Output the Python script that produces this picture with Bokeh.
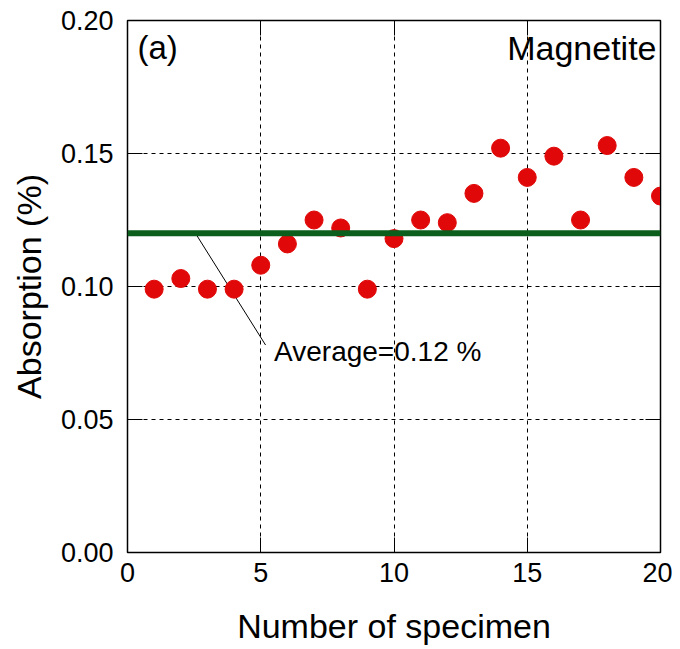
from bokeh.plotting import figure
from bokeh.models import Range1d, LinearAxis, Span, Label, FixedTicker, ColumnDataSource, CustomJSTickFormatter
from bokeh.embed import file_html
from bokeh.resources import INLINE

specimen = list(range(1, 21))
absorption = [0.099, 0.103, 0.099, 0.099, 0.108, 0.116, 0.125, 0.122, 0.099, 0.118,
              0.125, 0.124, 0.135, 0.152, 0.141, 0.149, 0.125, 0.153, 0.141, 0.134]
average = 0.12
x_ticks = [0, 5, 10, 15, 20]
y_ticks = [0.0, 0.05, 0.10, 0.15, 0.20]
leader_start = (2.55, 0.12)
leader_end = (5.18, 0.078)
label_pos = (5.5, 0.0755)

FONT = "Liberation Sans"

p = figure(frame_width=533, frame_height=532, output_backend="svg", toolbar_location=None,
           x_range=Range1d(0, 20), y_range=Range1d(0, 0.2),
           min_border_left=127, min_border_top=20, min_border_right=12, min_border_bottom=90)
p.background_fill_color = "white"
p.border_fill_color = "white"
p.outline_line_color = "black"
p.outline_line_width = 1.5

for ax in [p.xaxis[0], p.yaxis[0]]:
    ax.major_tick_in = 15
    ax.major_tick_out = 0
    ax.minor_tick_in = 0
    ax.minor_tick_out = 0
    ax.axis_line_color = "black"
    ax.major_label_text_font = FONT
    ax.major_label_text_font_size = "27px"
    ax.major_label_text_color = "black"
    ax.axis_label_text_font = FONT
    ax.axis_label_text_font_style = "normal"
    ax.axis_label_text_font_size = "34px"
    ax.axis_label_text_color = "black"

p.xaxis.ticker = FixedTicker(ticks=x_ticks)
p.yaxis.ticker = FixedTicker(ticks=y_ticks)
p.yaxis.formatter = CustomJSTickFormatter(code="return tick.toFixed(2);")
p.xaxis.axis_label = "Number of specimen"
p.yaxis.axis_label = "Absorption (%)"
p.xaxis.major_label_standoff = 10
p.yaxis.major_label_standoff = 14
p.xaxis.axis_label_standoff = 22
p.yaxis.axis_label_standoff = 10

for loc in ["right", "above"]:
    ax = LinearAxis(ticker=FixedTicker(ticks=x_ticks if loc == "above" else y_ticks))
    ax.major_tick_in = 15
    ax.major_tick_out = 0
    ax.minor_tick_in = 0
    ax.minor_tick_out = 0
    ax.major_label_text_font_size = "0px"
    ax.major_label_text_alpha = 0
    ax.major_label_standoff = 0
    ax.axis_line_color = "black"
    p.add_layout(ax, loc)

p.grid.grid_line_color = "black"
p.grid.grid_line_dash = "4 4"
p.grid.grid_line_width = 1
p.xgrid.ticker = FixedTicker(ticks=x_ticks)
p.ygrid.ticker = FixedTicker(ticks=y_ticks)

p.add_layout(Span(location=average, dimension="width", line_color="#0b5e1c", line_width=6))

seg_src = ColumnDataSource(dict(x0=[leader_start[0]], y0=[leader_start[1]],
                                x1=[leader_end[0]], y1=[leader_end[1]]))
p.segment("x0", "y0", "x1", "y1", source=seg_src, line_color="black", line_width=1)

p.scatter(specimen, absorption, size=18, fill_color="#e00808", line_color="#e00808")

p.add_layout(Label(x=label_pos[0], y=label_pos[1], text=f"Average={average:.2f} %",
                   text_font=FONT, text_font_size="28px", text_baseline="alphabetic",
                   text_color="black"))
p.add_layout(Label(x=10, y=505, x_units="screen", y_units="screen", text="(a)",
                   text_font=FONT, text_font_size="33px", text_baseline="alphabetic",
                   text_color="black"))
p.add_layout(Label(x=529, y=505, x_units="screen", y_units="screen", text="Magnetite",
                   text_font=FONT, text_font_size="34px", text_baseline="alphabetic",
                   text_align="right", text_color="black"))

open("out.html", "w").write(file_html(p, INLINE))
